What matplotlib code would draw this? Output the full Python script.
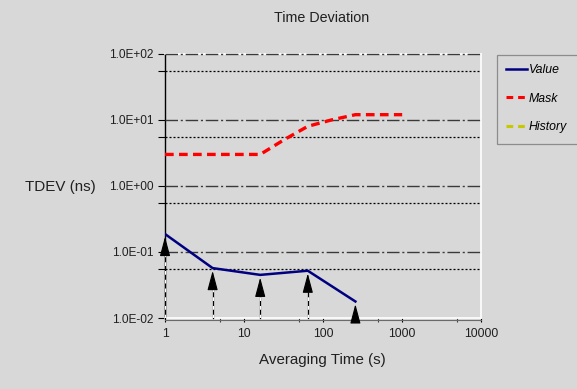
import matplotlib

matplotlib.use("Agg")
import matplotlib.pyplot as plt
from matplotlib.lines import Line2D
from matplotlib.patches import Rectangle

plt.rcParams["font.family"] = ["Liberation Sans", "DejaVu Sans"]

BG = "#d8d8d8"
NAVY = "#000080"
RED = "#ff0000"
OLIVE = "#c8c800"

# Measured TDEV (ns) at averaging times (s)
tau = [1, 4, 16, 64, 256]
tdev = [0.187, 0.057, 0.045, 0.052, 0.0178]

# Mask limit
mask_tau = [1, 16, 32, 64, 128, 256, 1000]
mask_tdev = [3.0, 3.0, 5.0, 8.0, 10.0, 12.0, 12.0]

y_major = [1e-2, 1e-1, 1e0, 1e1, 1e2]
y_labels = ["1.0E-02", "1.0E-01", "1.0E+00", "1.0E+01", "1.0E+02"]
y_minor = [5.5e-2, 5.5e-1, 5.5e0, 5.5e1]
x_major = [1, 10, 100, 1000, 10000]
x_labels = ["1", "10", "100", "1000", "10000"]
x_minor = [5, 50, 500, 5000]

fig = plt.figure(figsize=(5.77, 3.89), dpi=100, facecolor=BG)
ax = fig.add_axes([0.286, 0.1825, 0.548, 0.679], facecolor=BG)
ax.set_xscale("log")
ax.set_yscale("log")
ax.set_xlim(1, 10000)
ax.set_ylim(1e-2, 1e2)

# horizontal grid: dash-dot at decades, dotted in between
for v in y_major[1:]:
    ax.axhline(v, color="#3a3a3a", lw=1.0, dashes=(9, 2, 1.5, 2), zorder=3, clip_on=False)
for v in y_minor:
    ax.axhline(v, color="black", lw=0.9, dashes=(1.6, 1.6), zorder=1)

ax.plot(mask_tau, mask_tdev, color=RED, lw=2.4, dashes=(2.6, 1.6), zorder=4)
ax.plot(tau, tdev, color=NAVY, lw=1.8, zorder=4)

# arrows marking the measured points
for t, v in zip(tau, tdev):
    tip = v * 0.91
    base = tip / 1.75
    if base > 1e-2:
        ax.plot([t, t], [1e-2, base], color="black", lw=0.9, zorder=5, clip_on=False)
        ax.plot([t, t], [1e-2, base], color="white", lw=0.9, dashes=(3, 4), zorder=5)
    ax.annotate("", xy=(t, tip), xytext=(t, max(base, 1e-2)),
                arrowprops=dict(arrowstyle="-|>,head_length=1.2,head_width=0.32",
                                color="black", lw=0.8, shrinkA=0, shrinkB=0),
                zorder=6, annotation_clip=False)

ax.set_yticks(y_major)
ax.set_yticklabels(y_labels)
ax.set_yticks(y_minor, minor=True)
ax.set_yticklabels([], minor=True)
ax.set_xticks(x_major)
ax.set_xticklabels(x_labels)
ax.set_xticks(x_minor, minor=True)
ax.set_xticklabels([], minor=True)
ax.tick_params(axis="y", which="both", length=5, width=0.8, color="black",
               labelsize=8.6, labelcolor="#202020", pad=3)
ax.tick_params(axis="x", which="major", length=3, width=0.8, color="black",
               labelsize=8.8, labelcolor="#202020", pad=4)
ax.tick_params(axis="x", which="minor", length=3, width=0.8, color="#404040")

for side in ["top", "right", "bottom"]:
    ax.spines[side].set_color("white")
    ax.spines[side].set_linewidth(1.2)
ax.spines["left"].set_color("black")
ax.spines["left"].set_linewidth(1.0)
ax.spines["left"].set_zorder(2)
# shadow under the bottom axis line
ax.plot([0, 1], [-0.006, -0.006], transform=ax.transAxes, color="#6a6a6a",
        lw=0.8, clip_on=False, zorder=2)

fig.text(0.558, 0.953, "Time Deviation", ha="center", va="center", fontsize=10.3, color="#202020")
fig.text(0.105, 0.52, "TDEV (ns)", ha="center", va="center", fontsize=10.9, color="#202020")
fig.text(0.558, 0.075, "Averaging Time (s)", ha="center", va="center", fontsize=10.9, color="#202020")

# legend box runs past the right edge of the picture
fig.patches.append(Rectangle((497 / 577, 1 - 144 / 389), 0.2, 89 / 389,
                             transform=fig.transFigure, facecolor=BG,
                             edgecolor="#8c8c8c", lw=0.9))
handles = [
    Line2D([], [], color=NAVY, lw=1.8),
    Line2D([], [], color=RED, lw=2.2, dashes=(2.2, 1.6)),
    Line2D([], [], color=OLIVE, lw=2.2, dashes=(2.2, 1.6)),
]
leg = fig.legend(handles, ["Value", "Mask", "History"], loc="upper left",
                 bbox_to_anchor=(0.861, 0.859), frameon=False,
                 handlelength=1.7, handletextpad=0.15, labelspacing=1.35,
                 prop={"style": "italic", "size": 8.8}, borderpad=0.75,
                 borderaxespad=0)

fig.savefig("out.png", dpi=100, facecolor=BG)
